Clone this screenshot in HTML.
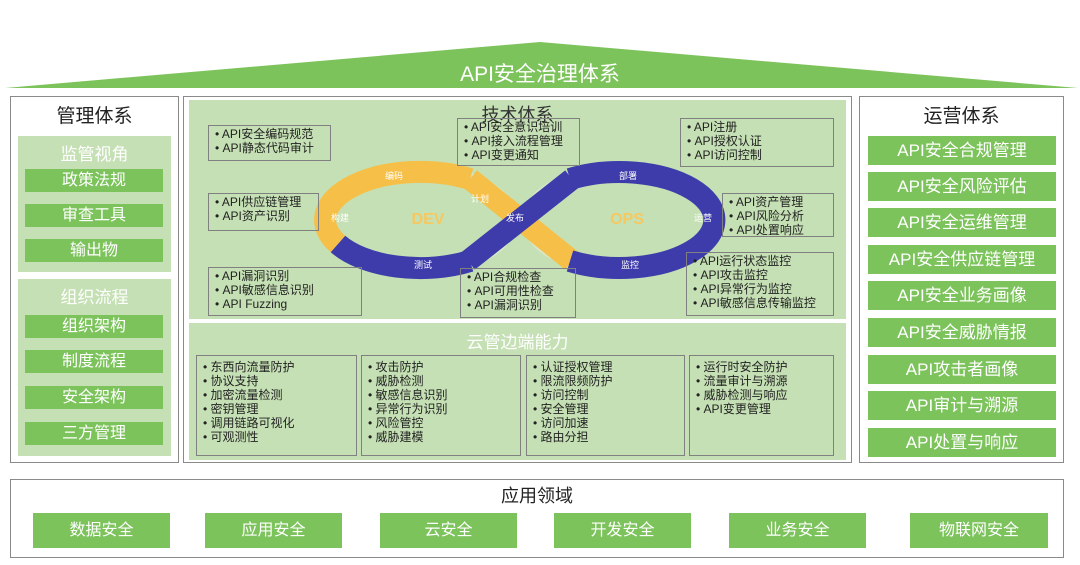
<!DOCTYPE html>
<html><head><meta charset="utf-8">
<style>
*{margin:0;padding:0;box-sizing:border-box}
body{width:1080px;height:565px;background:#fff;position:relative;overflow:hidden;font-family:"Liberation Sans","Noto Sans CJK SC",sans-serif}
.a{position:absolute}
.bd{border:1.5px solid #8a8a8a}
.g{background:#7cc35c;color:#fff;text-align:center}
.lg{background:#c5e0b4}
.t{color:#222;text-align:center}
.box{position:absolute;border:1.5px solid #808080;font-size:12px;line-height:14px;color:#222;padding:1px 0 0 6px;white-space:nowrap}
</style></head><body>
<svg class="a" style="left:0;top:0" width="1080" height="95">
<polygon points="5,88 540,42 1078,88" fill="#7dc35b"/>
<text x="540" y="81" font-size="21" fill="#fff" text-anchor="middle" font-family="Liberation Sans, Noto Sans CJK SC, sans-serif">API安全治理体系</text>
</svg>

<!-- left -->
<div class="a bd" style="left:10px;top:96px;width:169px;height:367px"></div>
<div class="a t" style="left:10px;top:101px;width:169px;font-size:19px">管理体系</div>
<div class="a lg" style="left:18px;top:136px;width:153px;height:136px"></div>
<div class="a" style="left:18px;top:140px;width:153px;text-align:center;color:#fff;font-size:17px">监管视角</div>
<div class="a g" style="left:25px;top:169px;width:138px;height:23px;font-size:16px;line-height:23px">政策法规</div>
<div class="a g" style="left:25px;top:204px;width:138px;height:23px;font-size:16px;line-height:23px">审查工具</div>
<div class="a g" style="left:25px;top:239px;width:138px;height:23px;font-size:16px;line-height:23px">输出物</div>
<div class="a lg" style="left:18px;top:279px;width:153px;height:177px"></div>
<div class="a" style="left:18px;top:283px;width:153px;text-align:center;color:#fff;font-size:17px">组织流程</div>
<div class="a g" style="left:25px;top:315px;width:138px;height:23px;font-size:16px;line-height:23px">组织架构</div>
<div class="a g" style="left:25px;top:350px;width:138px;height:23px;font-size:16px;line-height:23px">制度流程</div>
<div class="a g" style="left:25px;top:386px;width:138px;height:23px;font-size:16px;line-height:23px">安全架构</div>
<div class="a g" style="left:25px;top:422px;width:138px;height:23px;font-size:16px;line-height:23px">三方管理</div>

<!-- center -->
<div class="a bd" style="left:183px;top:96px;width:669px;height:367px"></div>
<div class="a lg" style="left:189px;top:100px;width:657px;height:219px"></div>
<div class="a lg" style="left:189px;top:323px;width:657px;height:137px"></div>
<svg class="a" style="left:189px;top:100px" width="657" height="219">
<g transform="translate(-189,-100)">
<ellipse cx="420" cy="220" rx="97" ry="54" fill="none" stroke="#d8e8cc" stroke-width="2"/>
<ellipse cx="620" cy="220" rx="97" ry="54" fill="none" stroke="#d8e8cc" stroke-width="2"/>
<path d="M470,179 A95,48 0 0 0 338,244" fill="none" stroke="#f6bf48" stroke-width="22"/>
<path d="M338,244 A95,48 0 0 0 470,261" fill="none" stroke="#3e3bab" stroke-width="22"/>
<line x1="470" y1="179" x2="572" y2="261" stroke="#f6bf48" stroke-width="22"/>
<path d="M570,179 A95,48 0 1 1 570,261" fill="none" stroke="#3e3bab" stroke-width="22"/>
<line x1="468" y1="261" x2="572" y2="179" stroke="#3e3bab" stroke-width="22"/>
<g font-size="9" fill="#fff" text-anchor="middle" font-family="Liberation Sans, Noto Sans CJK SC, sans-serif">
<text x="394" y="179">编码</text><text x="480" y="202">计划</text><text x="340" y="221">构建</text>
<text x="515" y="221">发布</text><text x="628" y="179">部署</text><text x="703" y="221">运营</text>
<text x="423" y="268">测试</text><text x="630" y="268">监控</text></g>
<text x="428" y="224" font-size="16" font-weight="bold" fill="#f6c860" text-anchor="middle">DEV</text>
<text x="627" y="224" font-size="16" font-weight="bold" fill="#f6c860" text-anchor="middle">OPS</text>
</g></svg>
<div class="a" style="left:189px;top:101px;width:657px;text-align:center;font-size:18px;color:#333">技术体系</div>
<div class="box" style="left:208px;top:125px;width:123px;height:36px">• API安全编码规范<br>• API静态代码审计</div>
<div class="box" style="left:457px;top:118px;width:123px;height:48px">• API安全意识培训<br>• API接入流程管理<br>• API变更通知</div>
<div class="box" style="left:680px;top:118px;width:154px;height:49px">• API注册<br>• API授权认证<br>• API访问控制</div>
<div class="box" style="left:208px;top:193px;width:111px;height:38px">• API供应链管理<br>• API资产识别</div>
<div class="box" style="left:722px;top:193px;width:112px;height:44px">• API资产管理<br>• API风险分析<br>• API处置响应</div>
<div class="box" style="left:208px;top:267px;width:154px;height:49px">• API漏洞识别<br>• API敏感信息识别<br>• API Fuzzing</div>
<div class="box" style="left:460px;top:268px;width:116px;height:50px">• API合规检查<br>• API可用性检查<br>• API漏洞识别</div>
<div class="box" style="left:686px;top:252px;width:148px;height:64px">• API运行状态监控<br>• API攻击监控<br>• API异常行为监控<br>• API敏感信息传输监控</div>
<div class="a" style="left:189px;top:328px;width:657px;text-align:center;font-size:17px;color:#fff">云管边端能力</div>
<div class="box" style="left:196px;top:355px;width:161px;height:101px;padding-top:4px">• 东西向流量防护<br>• 协议支持<br>• 加密流量检测<br>• 密钥管理<br>• 调用链路可视化<br>• 可观测性</div>
<div class="box" style="left:361px;top:355px;width:160px;height:101px;padding-top:4px">• 攻击防护<br>• 威胁检测<br>• 敏感信息识别<br>• 异常行为识别<br>• 风险管控<br>• 威胁建模</div>
<div class="box" style="left:526px;top:355px;width:159px;height:101px;padding-top:4px">• 认证授权管理<br>• 限流限频防护<br>• 访问控制<br>• 安全管理<br>• 访问加速<br>• 路由分担</div>
<div class="box" style="left:689px;top:355px;width:145px;height:101px;padding-top:4px">• 运行时安全防护<br>• 流量审计与溯源<br>• 威胁检测与响应<br>• API变更管理</div>

<!-- right -->
<div class="a bd" style="left:859px;top:96px;width:205px;height:367px"></div>
<div class="a t" style="left:859px;top:101px;width:205px;font-size:19px">运营体系</div>
<div class="a g" style="left:868px;top:136px;width:188px;height:29px;font-size:17px;line-height:29px">API安全合规管理</div>
<div class="a g" style="left:868px;top:172px;width:188px;height:29px;font-size:17px;line-height:29px">API安全风险评估</div>
<div class="a g" style="left:868px;top:208px;width:188px;height:29px;font-size:17px;line-height:29px">API安全运维管理</div>
<div class="a g" style="left:868px;top:245px;width:188px;height:29px;font-size:17px;line-height:29px">API安全供应链管理</div>
<div class="a g" style="left:868px;top:281px;width:188px;height:29px;font-size:17px;line-height:29px">API安全业务画像</div>
<div class="a g" style="left:868px;top:318px;width:188px;height:29px;font-size:17px;line-height:29px">API安全威胁情报</div>
<div class="a g" style="left:868px;top:355px;width:188px;height:29px;font-size:17px;line-height:29px">API攻击者画像</div>
<div class="a g" style="left:868px;top:391px;width:188px;height:29px;font-size:17px;line-height:29px">API审计与溯源</div>
<div class="a g" style="left:868px;top:428px;width:188px;height:29px;font-size:17px;line-height:29px">API处置与响应</div>

<!-- bottom -->
<div class="a bd" style="left:10px;top:479px;width:1054px;height:79px"></div>
<div class="a t" style="left:10px;top:482px;width:1054px;font-size:18px">应用领域</div>
<div class="a g" style="left:33px;top:513px;width:137px;height:35px;font-size:16px;line-height:35px">数据安全</div>
<div class="a g" style="left:205px;top:513px;width:137px;height:35px;font-size:16px;line-height:35px">应用安全</div>
<div class="a g" style="left:380px;top:513px;width:137px;height:35px;font-size:16px;line-height:35px">云安全</div>
<div class="a g" style="left:554px;top:513px;width:137px;height:35px;font-size:16px;line-height:35px">开发安全</div>
<div class="a g" style="left:729px;top:513px;width:137px;height:35px;font-size:16px;line-height:35px">业务安全</div>
<div class="a g" style="left:910px;top:513px;width:138px;height:35px;font-size:16px;line-height:35px">物联网安全</div>
</body></html>
